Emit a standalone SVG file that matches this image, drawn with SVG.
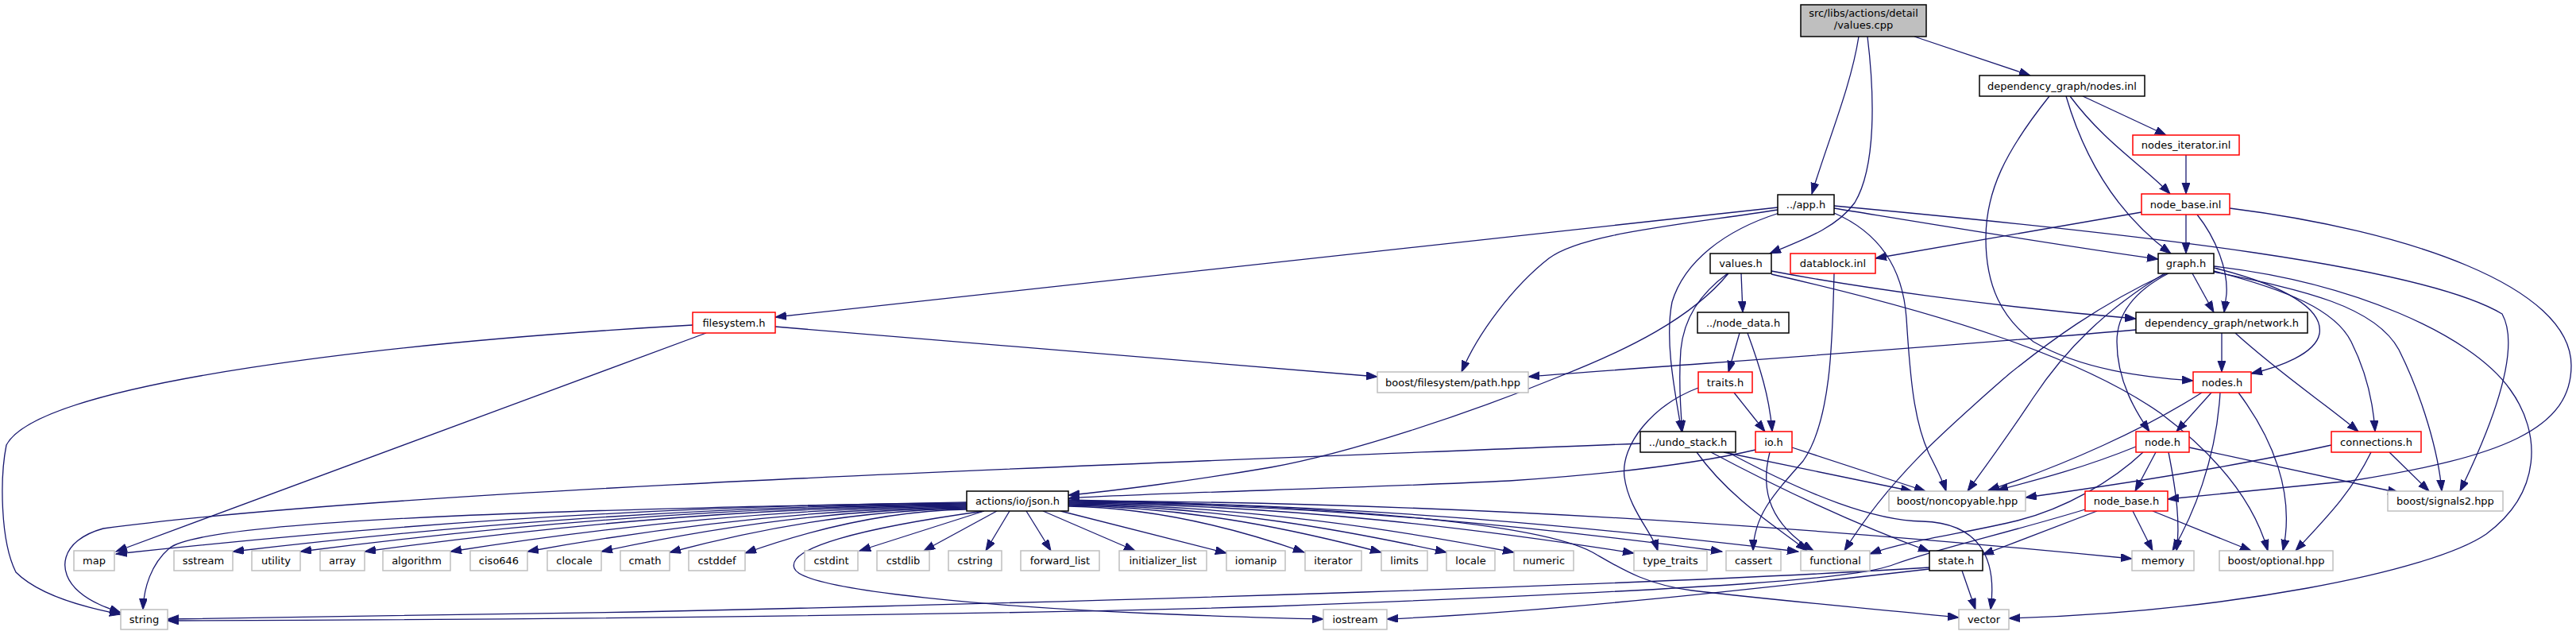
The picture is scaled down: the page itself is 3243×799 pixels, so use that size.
<svg xmlns="http://www.w3.org/2000/svg" width="3243" height="799" viewBox="0 0 3243 799">
<defs>
<marker id="a" markerUnits="userSpaceOnUse" markerWidth="15" markerHeight="11" refX="14" refY="5" orient="auto"><path d="M0,0 L14,5 L0,10 z" fill="#191970" stroke="#191970" stroke-width="1"/></marker>
<style>
.e path{fill:none;stroke:#191970;stroke-width:1.3;marker-end:url(#a)}
rect{fill:#fff;stroke-width:1.5}
.b rect{stroke:#000}
.r rect{stroke:#ff0000}
.g rect{stroke:#bfbfbf}
.root rect{fill:#bfbfbf;stroke:#000}
text{font-family:"DejaVu Sans","Liberation Sans",sans-serif;font-size:13px;text-anchor:middle;fill:#000}
</style>
</defs>
<rect x="0" y="0" width="3243" height="799" fill="#fff" stroke="none"/>
<g class="e" id="edges">
<path d="M2340,46 C2330,110 2300,180 2281,244"/>
<path d="M2351,46 C2360,120 2362,210 2335,255 C2310,290 2260,305 2228,319"/>
<path d="M2410,46 L2556,95"/>
<path d="M2238,261 L976,399"/>
<path d="M2238,264 C2100,285 1990,295 1950,325 C1905,360 1860,420 1840,468"/>
<path d="M2240,268 C2170,290 2120,330 2105,380 C2095,430 2110,500 2117,543"/>
<path d="M2309,262 C2450,285 2600,310 2717,326"/>
<path d="M2309,259 C2700,295 3050,335 3150,395 C3175,440 3135,540 3097,618"/>
<path d="M2309,268 C2360,290 2395,330 2400,400 C2405,480 2410,530 2428,570 C2438,590 2446,605 2450,618"/>
<path d="M2175,344 C2140,370 2120,400 2116,440 C2113,480 2116,520 2118,543"/>
<path d="M2176,344 C2130,400 2050,440 1960,475 C1850,520 1700,570 1600,588 C1500,605 1400,618 1345,623"/>
<path d="M2192,344 L2194,393"/>
<path d="M2230,341 C2330,360 2500,385 2689,401"/>
<path d="M2230,345 C2450,395 2620,450 2720,520 C2800,580 2840,640 2855,693"/>
<path d="M2309,344 C2307,430 2305,530 2270,580 C2230,625 2208,650 2207,693"/>
<path d="M2622,121 L2727,170"/>
<path d="M2606,121 C2650,180 2700,210 2732,244"/>
<path d="M2601,121 C2630,220 2680,280 2733,319"/>
<path d="M2580,121 C2525,190 2500,240 2500,300 C2500,360 2520,400 2560,430 C2620,465 2700,475 2761,479"/>
<path d="M2752,195 L2752,244"/>
<path d="M2752,270 L2752,319"/>
<path d="M2766,270 C2790,300 2805,340 2803,370 L2800,393"/>
<path d="M2696,267 L2361,325"/>
<path d="M2807,262 C3030,290 3237,360 3237,460 C3237,540 3150,575 2960,605 L2729,628"/>
<path d="M2760,344 L2787,393"/>
<path d="M2787,337 C2880,360 2925,390 2920,420 C2915,445 2870,462 2834,470"/>
<path d="M2730,344 C2680,370 2665,400 2665,430 C2665,480 2690,520 2706,543"/>
<path d="M2787,341 C2880,365 2940,390 2960,430 C2980,470 2988,510 2990,543"/>
<path d="M2787,342 C2900,365 2990,385 3020,440 C3050,500 3070,570 3074,618"/>
<path d="M2787,335 C2960,355 3110,420 3160,490 C3200,545 3200,620 3130,672 C3060,720 2800,770 2529,778"/>
<path d="M2725,344 C2650,390 2600,440 2560,500 C2520,560 2490,600 2477,618"/>
<path d="M2728,344 C2640,385 2580,430 2530,470 C2450,540 2380,600 2322,693"/>
<path d="M2797,419 L2797,468"/>
<path d="M2814,419 C2870,470 2930,510 2969,543"/>
<path d="M2689,415 C2400,440 2100,460 1924,474"/>
<path d="M2784,494 L2740,543"/>
<path d="M2772,494 C2700,540 2600,585 2503,617"/>
<path d="M2795,494 C2790,580 2760,650 2735,693"/>
<path d="M2818,494 C2860,550 2890,620 2874,693"/>
<path d="M2714,569 L2688,618"/>
<path d="M2730,569 C2740,620 2745,660 2740,693"/>
<path d="M2689,562 C2620,590 2560,605 2514,617"/>
<path d="M2756,563 L3020,620"/>
<path d="M2698,569 C2660,605 2600,640 2540,655 C2480,670 2400,680 2354,697"/>
<path d="M2935,560 C2800,590 2650,612 2550,626"/>
<path d="M3008,569 L3058,618"/>
<path d="M2985,569 C2960,620 2930,650 2890,693"/>
<path d="M2685,643 L2710,693"/>
<path d="M2710,643 L2834,693"/>
<path d="M2640,643 L2496,698"/>
<path d="M2625,641 C2530,670 2440,690 2385,710 C2340,727 2200,740 1600,763 C1200,775 600,780 211,781"/>
<path d="M2429,714 C2100,735 1400,757 800,770 C500,776 300,778 211,779"/>
<path d="M2429,716 C2200,742 1950,770 1746,779"/>
<path d="M2470,718 L2487,767"/>
<path d="M2154,569 C2250,620 2350,665 2429,694"/>
<path d="M2136,569 C2180,630 2240,665 2275,693"/>
<path d="M2170,569 L2407,618"/>
<path d="M2175,569 C2280,625 2360,655 2420,656 C2490,658 2515,700 2506,767"/>
<path d="M2065,558 C1400,585 500,615 130,665 C75,680 70,720 100,745 C115,758 135,765 152,771"/>
<path d="M872,409 C500,430 50,480 8,560 C0,600 0,680 20,720 C50,750 110,765 152,773"/>
<path d="M889,419 L146,694"/>
<path d="M976,411 L1734,474"/>
<path d="M2190,419 L2176,468"/>
<path d="M2200,419 C2215,460 2228,500 2231,543"/>
<path d="M2183,494 L2222,543"/>
<path d="M2138,488 C2080,510 2040,560 2045,600 C2050,640 2080,670 2087,693"/>
<path d="M2210,566 C2150,580 2050,595 1900,605 C1700,615 1450,620 1345,627"/>
<path d="M2256,563 L2424,618"/>
<path d="M2228,569 C2215,620 2230,660 2283,693"/>
<path d="M1217,633 C789,635 414,668 146,697"/>
<path d="M1217,634 C847,636 524,667 293,694"/>
<path d="M1217,635 C881,637 588,667 378,694"/>
<path d="M1217,636 C914,638 649,668 459,694"/>
<path d="M1217,637 C957,639 730,668 567,694"/>
<path d="M1217,638 C996,640 802,669 664,694"/>
<path d="M1217,639 C1033,641 872,669 757,694"/>
<path d="M1217,640 C1067,642 937,670 843,695"/>
<path d="M1217,641 C1105,643 1008,671 938,696"/>
<path d="M1239,643 L1082,693"/>
<path d="M1255,643 L1163,693"/>
<path d="M1271,643 L1241,693"/>
<path d="M1292,643 L1323,693"/>
<path d="M1313,643 L1429,693"/>
<path d="M1335,643 L1544,696"/>
<path d="M1345,637 C1464,639 1568,669 1642,695"/>
<path d="M1345,636 C1503,638 1640,669 1739,695"/>
<path d="M1345,635 C1535,637 1702,669 1821,695"/>
<path d="M1345,634 C1569,636 1766,668 1906,695"/>
<path d="M1345,633 C1630,635 1879,668 2057,696"/>
<path d="M1345,632 C1676,634 1966,667 2168,694"/>
<path d="M1345,631 C1714,633 2036,667 2264,694"/>
<path d="M1345,630 C1881,632 2349,670 2684,703"/>
<path d="M1345,629 C1650,636 1930,655 2005,695 C2040,715 2070,735 2130,743 C2250,757 2380,768 2466,777"/>
<path d="M1217,632 C800,640 260,650 213,690 C190,710 181,740 180,767"/>
<path d="M1239,643 C1080,665 990,690 1000,715 C1010,745 1280,765 1450,772 C1550,776 1620,778 1666,779"/>
</g>
<g id="n_values_cpp" class="root"><rect x="2267" y="6" width="158" height="40"/><text x="2346" y="21">src/libs/actions/detail</text><text x="2346" y="36">/values.cpp</text></g>
<g id="n_app_h" class="b"><rect x="2238" y="245" width="71" height="25"/><text x="2273.5" y="262">../app.h</text></g>
<g id="n_nodes_inl" class="b"><rect x="2492" y="95" width="208" height="26"/><text x="2596" y="112.5">dependency_graph/nodes.inl</text></g>
<g id="n_nodes_iterator_inl" class="r"><rect x="2685" y="170" width="134" height="25"/><text x="2752" y="187">nodes_iterator.inl</text></g>
<g id="n_node_base_inl" class="r"><rect x="2696" y="244" width="111" height="26"/><text x="2751.5" y="261.5">node_base.inl</text></g>
<g id="n_graph_h" class="b"><rect x="2717" y="319" width="70" height="25"/><text x="2752" y="336">graph.h</text></g>
<g id="n_values_h" class="b"><rect x="2153" y="319" width="77" height="25"/><text x="2191.5" y="336">values.h</text></g>
<g id="n_datablock_inl" class="r"><rect x="2254" y="319" width="107" height="25"/><text x="2307.5" y="336">datablock.inl</text></g>
<g id="n_filesystem_h" class="r"><rect x="872" y="393" width="104" height="26"/><text x="924" y="410.5">filesystem.h</text></g>
<g id="n_node_data_h" class="b"><rect x="2137" y="393" width="115" height="26"/><text x="2194.5" y="410.5">../node_data.h</text></g>
<g id="n_network_h" class="b"><rect x="2689" y="393" width="216" height="26"/><text x="2797" y="410.5">dependency_graph/network.h</text></g>
<g id="n_path_hpp" class="g"><rect x="1734" y="468" width="190" height="26"/><text x="1829" y="485.5">boost/filesystem/path.hpp</text></g>
<g id="n_traits_h" class="r"><rect x="2138" y="468" width="68" height="26"/><text x="2172" y="485.5">traits.h</text></g>
<g id="n_nodes_h" class="r"><rect x="2761" y="468" width="73" height="26"/><text x="2797.5" y="485.5">nodes.h</text></g>
<g id="n_undo_stack_h" class="b"><rect x="2065" y="543" width="120" height="26"/><text x="2125" y="560.5">../undo_stack.h</text></g>
<g id="n_io_h" class="r"><rect x="2210" y="543" width="46" height="26"/><text x="2233" y="560.5">io.h</text></g>
<g id="n_node_h" class="r"><rect x="2689" y="543" width="67" height="26"/><text x="2722.5" y="560.5">node.h</text></g>
<g id="n_connections_h" class="r"><rect x="2935" y="543" width="113" height="26"/><text x="2991.5" y="560.5">connections.h</text></g>
<g id="n_json_h" class="b"><rect x="1217" y="618" width="128" height="25"/><text x="1281" y="635">actions/io/json.h</text></g>
<g id="n_noncopyable" class="g"><rect x="2378" y="618" width="172" height="25"/><text x="2464" y="635">boost/noncopyable.hpp</text></g>
<g id="n_node_base_h" class="r"><rect x="2625" y="618" width="104" height="25"/><text x="2677" y="635">node_base.h</text></g>
<g id="n_signals2" class="g"><rect x="3006" y="618" width="145" height="25"/><text x="3078.5" y="635">boost/signals2.hpp</text></g>
<g id="n_map" class="g"><rect x="93" y="693" width="51" height="25"/><text x="118.5" y="710">map</text></g>
<g id="n_sstream" class="g"><rect x="219" y="693" width="74" height="25"/><text x="256" y="710">sstream</text></g>
<g id="n_utility" class="g"><rect x="317" y="693" width="61" height="25"/><text x="347.5" y="710">utility</text></g>
<g id="n_array" class="g"><rect x="403" y="693" width="56" height="25"/><text x="431" y="710">array</text></g>
<g id="n_algorithm" class="g"><rect x="482" y="693" width="85" height="25"/><text x="524.5" y="710">algorithm</text></g>
<g id="n_ciso646" class="g"><rect x="592" y="693" width="72" height="25"/><text x="628" y="710">ciso646</text></g>
<g id="n_clocale" class="g"><rect x="689" y="693" width="68" height="25"/><text x="723" y="710">clocale</text></g>
<g id="n_cmath" class="g"><rect x="781" y="693" width="62" height="25"/><text x="812" y="710">cmath</text></g>
<g id="n_cstddef" class="g"><rect x="867" y="693" width="71" height="25"/><text x="902.5" y="710">cstddef</text></g>
<g id="n_cstdint" class="g"><rect x="1013" y="693" width="67" height="25"/><text x="1046.5" y="710">cstdint</text></g>
<g id="n_cstdlib" class="g"><rect x="1104" y="693" width="66" height="25"/><text x="1137" y="710">cstdlib</text></g>
<g id="n_cstring" class="g"><rect x="1194" y="693" width="67" height="25"/><text x="1227.5" y="710">cstring</text></g>
<g id="n_forward_list" class="g"><rect x="1285" y="693" width="99" height="25"/><text x="1334.5" y="710">forward_list</text></g>
<g id="n_initializer_list" class="g"><rect x="1409" y="693" width="110" height="25"/><text x="1464" y="710">initializer_list</text></g>
<g id="n_iomanip" class="g"><rect x="1544" y="693" width="74" height="25"/><text x="1581" y="710">iomanip</text></g>
<g id="n_iterator" class="g"><rect x="1643" y="693" width="71" height="25"/><text x="1678.5" y="710">iterator</text></g>
<g id="n_limits" class="g"><rect x="1739" y="693" width="58" height="25"/><text x="1768" y="710">limits</text></g>
<g id="n_locale" class="g"><rect x="1821" y="693" width="61" height="25"/><text x="1851.5" y="710">locale</text></g>
<g id="n_numeric" class="g"><rect x="1906" y="693" width="75" height="25"/><text x="1943.5" y="710">numeric</text></g>
<g id="n_type_traits" class="g"><rect x="2057" y="693" width="92" height="25"/><text x="2103" y="710">type_traits</text></g>
<g id="n_cassert" class="g"><rect x="2173" y="693" width="69" height="25"/><text x="2207.5" y="710">cassert</text></g>
<g id="n_functional" class="g"><rect x="2267" y="693" width="87" height="25"/><text x="2310.5" y="710">functional</text></g>
<g id="n_state_h" class="b"><rect x="2429" y="693" width="67" height="25"/><text x="2462.5" y="710">state.h</text></g>
<g id="n_memory" class="g"><rect x="2684" y="693" width="78" height="25"/><text x="2723" y="710">memory</text></g>
<g id="n_optional" class="g"><rect x="2794" y="693" width="143" height="25"/><text x="2865.5" y="710">boost/optional.hpp</text></g>
<g id="n_string" class="g"><rect x="152" y="767" width="59" height="25"/><text x="181.5" y="784">string</text></g>
<g id="n_iostream" class="g"><rect x="1666" y="767" width="80" height="25"/><text x="1706" y="784">iostream</text></g>
<g id="n_vector" class="g"><rect x="2466" y="767" width="63" height="25"/><text x="2497.5" y="784">vector</text></g>
</svg>
